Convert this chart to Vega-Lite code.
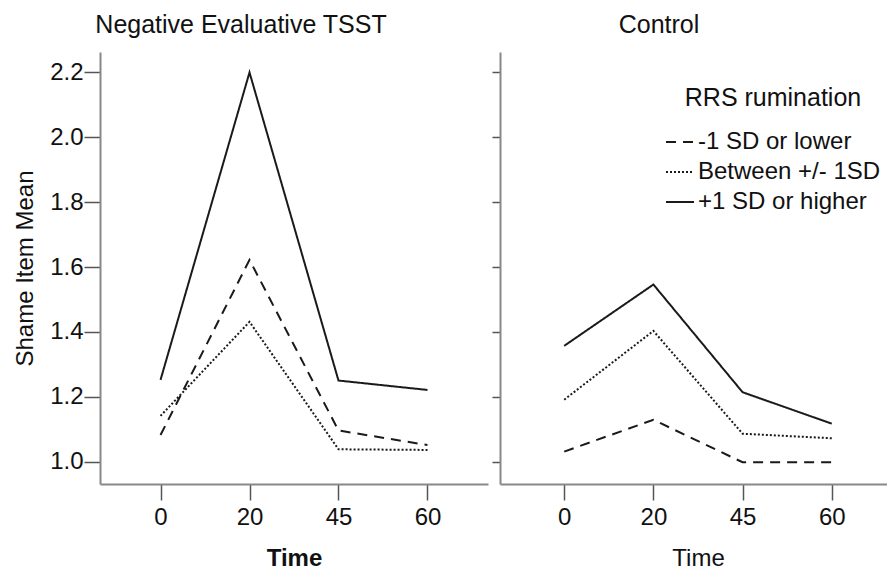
{
  "$schema": "https://vega.github.io/schema/vega-lite/v6.json",
  "background": "white",
  "padding": {"left": 13, "top": 13, "right": 0, "bottom": 0},
  "config": {
    "font": "Liberation Sans",
    "view": {"stroke": null},
    "axis": {"grid": false, "labelFontSize": 24, "titleFontSize": 24, "labelColor": "#111", "titleColor": "#111", "domainColor": "#888", "domainWidth": 2, "tickColor": "#555", "tickWidth": 1.5, "titleFontWeight": "normal", "labelFont": "Liberation Sans", "titleFont": "Liberation Sans"},
    "title": {"fontSize": 25, "fontWeight": "normal", "color": "#111", "font": "Liberation Sans"},
    "legend": {"labelFontSize": 24, "titleFontSize": 25, "titleFontWeight": "normal", "labelColor": "#111", "titleColor": "#111", "labelFont": "Liberation Sans", "titleFont": "Liberation Sans", "labelLimit": 0}
  },
  "data": {
    "values": [
      {"panel": "Negative Evaluative TSST", "group": "-1 SD or lower", "time": 0, "mean": 1.082},
      {"panel": "Negative Evaluative TSST", "group": "-1 SD or lower", "time": 20, "mean": 1.622},
      {"panel": "Negative Evaluative TSST", "group": "-1 SD or lower", "time": 45, "mean": 1.096},
      {"panel": "Negative Evaluative TSST", "group": "-1 SD or lower", "time": 60, "mean": 1.051},
      {"panel": "Negative Evaluative TSST", "group": "Between +/- 1SD", "time": 0, "mean": 1.141},
      {"panel": "Negative Evaluative TSST", "group": "Between +/- 1SD", "time": 20, "mean": 1.431},
      {"panel": "Negative Evaluative TSST", "group": "Between +/- 1SD", "time": 45, "mean": 1.038},
      {"panel": "Negative Evaluative TSST", "group": "Between +/- 1SD", "time": 60, "mean": 1.036},
      {"panel": "Negative Evaluative TSST", "group": "+1 SD or higher", "time": 0, "mean": 1.252},
      {"panel": "Negative Evaluative TSST", "group": "+1 SD or higher", "time": 20, "mean": 2.2},
      {"panel": "Negative Evaluative TSST", "group": "+1 SD or higher", "time": 45, "mean": 1.25},
      {"panel": "Negative Evaluative TSST", "group": "+1 SD or higher", "time": 60, "mean": 1.221},
      {"panel": "Control", "group": "-1 SD or lower", "time": 0, "mean": 1.031},
      {"panel": "Control", "group": "-1 SD or lower", "time": 20, "mean": 1.129},
      {"panel": "Control", "group": "-1 SD or lower", "time": 45, "mean": 0.998},
      {"panel": "Control", "group": "-1 SD or lower", "time": 60, "mean": 0.998},
      {"panel": "Control", "group": "Between +/- 1SD", "time": 0, "mean": 1.191},
      {"panel": "Control", "group": "Between +/- 1SD", "time": 20, "mean": 1.403},
      {"panel": "Control", "group": "Between +/- 1SD", "time": 45, "mean": 1.086},
      {"panel": "Control", "group": "Between +/- 1SD", "time": 60, "mean": 1.072},
      {"panel": "Control", "group": "+1 SD or higher", "time": 0, "mean": 1.357},
      {"panel": "Control", "group": "+1 SD or higher", "time": 20, "mean": 1.546},
      {"panel": "Control", "group": "+1 SD or higher", "time": 45, "mean": 1.214},
      {"panel": "Control", "group": "+1 SD or higher", "time": 60, "mean": 1.117}
    ]
  },
  "spacing": 12,
  "bounds": "flush",
  "resolve": {"scale": {"y": "shared", "strokeDash": "shared"}, "legend": {"strokeDash": "shared"}},
  "hconcat": [
    {
      "width": 388,
      "height": 432,
      "title": {"text": "Negative Evaluative TSST", "anchor": "middle", "dx": -53, "offset": 14},
      "transform": [{"filter": "datum.panel === 'Negative Evaluative TSST'"}],
      "mark": {"type": "line", "strokeWidth": 2, "color": "#1a1a1a"},
      "encoding": {
        "x": {"field": "time", "type": "ordinal", "scale": {"type": "point", "padding": 0.68}, "axis": {"title": "Time", "titleFontWeight": "bold", "labelAngle": 0, "tickSize": 16, "labelPadding": 5, "titlePadding": 17}},
        "y": {"field": "mean", "type": "quantitative", "scale": {"domain": [0.931, 2.263], "nice": false, "zero": false}, "axis": {"title": "Shame Item Mean", "values": [1, 1.2, 1.4, 1.6, 1.8, 2, 2.2], "format": ".1f", "tickSize": 16, "labelPadding": 1, "titlePadding": 12}},
        "strokeDash": {"field": "group", "type": "nominal", "scale": {"domain": ["-1 SD or lower", "Between +/- 1SD", "+1 SD or higher"], "range": [[10, 7], [2, 2], [1, 0]]}, "legend": {"title": "RRS rumination", "orient": "none", "legendX": 565, "legendY": 34, "titleAnchor": "middle", "titlePadding": 16, "rowPadding": 3, "symbolSize": 784, "symbolStrokeWidth": 2, "symbolStrokeColor": "#1a1a1a", "labelOffset": 3}}
      }
    },
    {
      "width": 396,
      "height": 432,
      "title": {"text": "Control", "anchor": "middle", "dx": -39, "offset": 14},
      "transform": [{"filter": "datum.panel === 'Control'"}],
      "mark": {"type": "line", "strokeWidth": 2, "color": "#1a1a1a"},
      "encoding": {
        "x": {"field": "time", "type": "ordinal", "scale": {"type": "point", "padding": 0.72}, "axis": {"title": "Time", "labelAngle": 0, "tickSize": 16, "labelPadding": 5, "titlePadding": 17}},
        "y": {"field": "mean", "type": "quantitative", "scale": {"domain": [0.931, 2.263], "nice": false, "zero": false}, "axis": {"title": null, "labels": false, "values": [1, 1.2, 1.4, 1.6, 1.8, 2, 2.2], "tickSize": 8}},
        "strokeDash": {"field": "group", "type": "nominal", "scale": {"domain": ["-1 SD or lower", "Between +/- 1SD", "+1 SD or higher"], "range": [[10, 7], [2, 2], [1, 0]]}, "legend": {"title": "RRS rumination", "orient": "none", "legendX": 565, "legendY": 34, "titleAnchor": "middle", "titlePadding": 16, "rowPadding": 3, "symbolSize": 784, "symbolStrokeWidth": 2, "symbolStrokeColor": "#1a1a1a", "labelOffset": 3}}
      }
    }
  ]
}
